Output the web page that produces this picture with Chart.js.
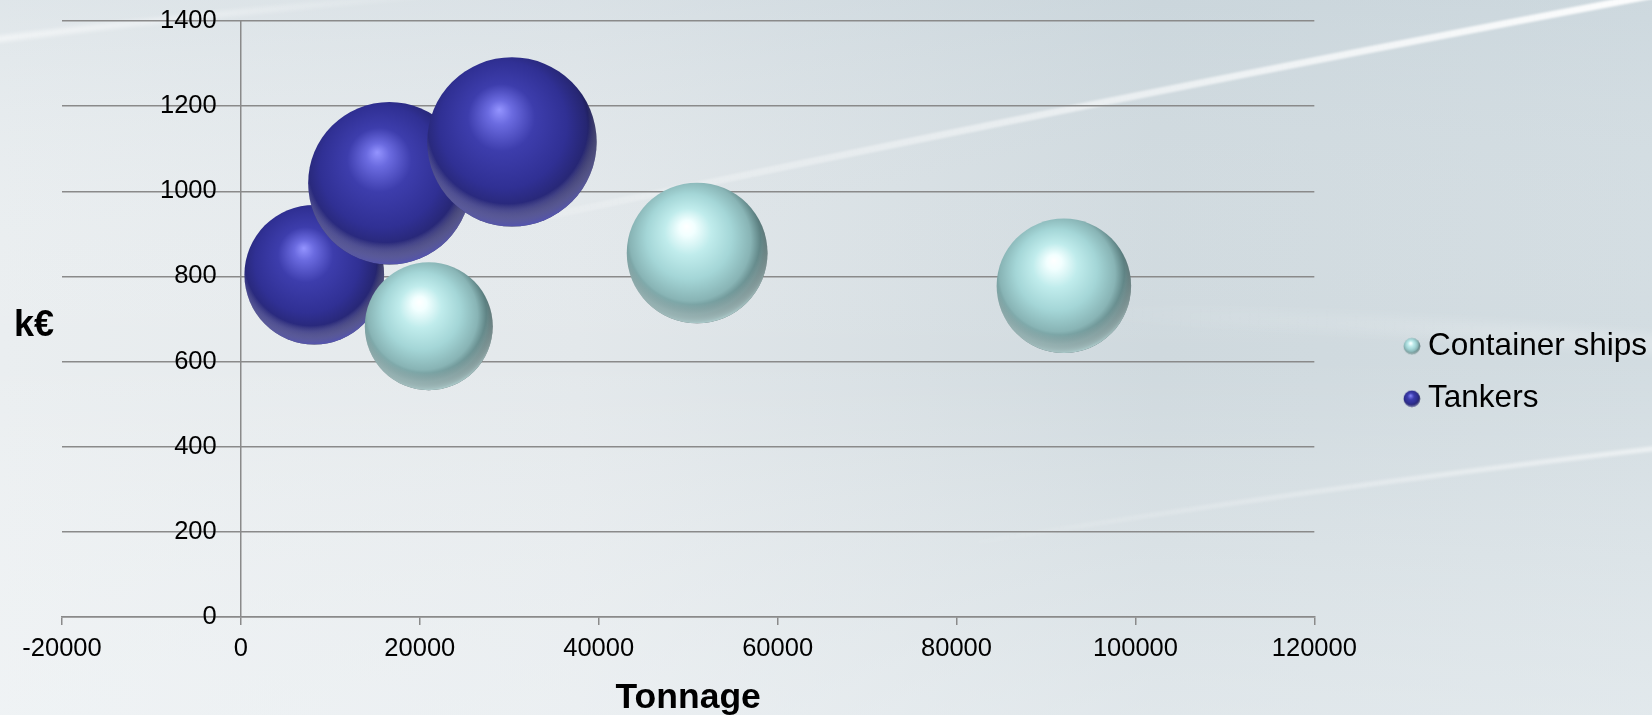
<!DOCTYPE html>
<html>
<head>
<meta charset="utf-8">
<title>Ship costs by tonnage</title>
<script src="https://cdn.jsdelivr.net/npm/chart.js@4.4.1/dist/chart.umd.min.js"></script>
<style>
  html, body { margin: 0; padding: 0; background: #e6eaed; }
  #wrap { width: 1652px; height: 715px; }
</style>
</head>
<body>
<div id="wrap"><canvas id="chart" width="1652" height="715"></canvas></div>
<script>
// Container ships: tonnage, cost (k€) and bubble size
const tonnageContainer = [21000, 51000, 92000];
const costContainer    = [683, 855, 778];
const sizeContainer    = [57, 69, 63];

// Tankers: tonnage, cost (k€) and bubble size
const tonnageTankers = [8200, 16600, 30300];
const costTankers    = [804, 1019, 1116];
const sizeTankers    = [68, 92, 100];

const seriesNames = ['Container ships', 'Tankers'];
const xTickValues = [-20000, 0, 20000, 40000, 60000, 80000, 100000, 120000];
const yTickValues = [0, 200, 400, 600, 800, 1000, 1200, 1400];
const xTitle = 'Tonnage';
const yTitle = 'k€';

// bubble area is proportional to size; the largest bubble gets this radius
const MAX_RADIUS = 84.7;
const sizeMax = Math.max(...sizeContainer, ...sizeTankers);
const toPoints = (xs, ys, ss) => xs.map((x, i) => ({ x, y: ys[i], r: MAX_RADIUS * Math.sqrt(ss[i] / sizeMax) }));

const FONT = '"Liberation Sans", Arial, sans-serif';
const AXIS_GREY = '#8a8a8a';
const NONE = 'rgba(0,0,0,0)';

// shading palettes for the glossy spheres
const palettes = [
  { stops: [[0, '#ffffff'], [0.1, '#f2ffff'], [0.3, '#c0ecec'], [0.55, '#a4d6d7'], [0.78, '#88b4b5'], [0.92, '#587b7c'], [1, '#2a4142']],
    rim: 'rgba(215,248,248,0.75)' },
  { stops: [[0, '#9494ff'], [0.13, '#6b6be0'], [0.36, '#3d3dac'], [0.68, '#303094'], [0.88, '#262672'], [1, '#131338']],
    rim: 'rgba(110,110,225,0.7)' }
];

function paintSphere(ctx, x, y, r, pal) {
  ctx.save();
  ctx.beginPath();
  ctx.arc(x, y, r, 0, Math.PI * 2);
  ctx.closePath();
  const g = ctx.createRadialGradient(x - 0.15 * r, y - 0.38 * r, 0, x - 0.08 * r, y - 0.12 * r, 1.1 * r);
  pal.stops.forEach(s => g.addColorStop(s[0], s[1]));
  ctx.fillStyle = g;
  ctx.fill();
  ctx.clip();
  // lighter rim along the lower edge
  const rim = ctx.createRadialGradient(x - 0.05 * r, y - 0.22 * r, 0.95 * r, x - 0.05 * r, y - 0.22 * r, 1.22 * r);
  rim.addColorStop(0, 'rgba(255,255,255,0)');
  rim.addColorStop(1, pal.rim);
  ctx.fillStyle = rim;
  ctx.fillRect(x - r, y - r, 2 * r, 2 * r);
  ctx.restore();
}

// small sphere images used as legend markers
const markerImages = palettes.map(pal => {
  const c = document.createElement('canvas');
  c.width = 18; c.height = 18;
  paintSphere(c.getContext('2d'), 9, 9, 8.3, pal);
  return c;
});

const backdrop = {
  id: 'backdrop',
  beforeDraw(chart) {
    const { ctx, width, height } = chart;
    ctx.save();
    const h = ctx.createLinearGradient(0, 0, width, 0);
    h.addColorStop(0, '#eaeef0');
    h.addColorStop(0.35, '#e3e8eb');
    h.addColorStop(0.7, '#cfd9de');
    h.addColorStop(1, '#d2dce1');
    ctx.fillStyle = h;
    ctx.fillRect(0, 0, width, height);
    const v = ctx.createLinearGradient(0, 0, 0, height);
    v.addColorStop(0, 'rgba(190,205,214,0.25)');
    v.addColorStop(0.5, 'rgba(255,255,255,0)');
    v.addColorStop(1, 'rgba(245,248,250,0.45)');
    ctx.fillStyle = v;
    ctx.fillRect(0, 0, width, height);
    // soft light streaks
    ctx.lineCap = 'round';
    const streak = (x1, y1, cx, cy, x2, y2, w, a0, a1, blur) => {
      const lg = ctx.createLinearGradient(x1, y1, x2, y2);
      lg.addColorStop(0, 'rgba(255,255,255,' + a0 + ')');
      lg.addColorStop(1, 'rgba(255,255,255,' + a1 + ')');
      ctx.strokeStyle = lg;
      ctx.lineWidth = w;
      ctx.filter = 'blur(' + blur + 'px)';
      ctx.beginPath();
      ctx.moveTo(x1, y1);
      ctx.quadraticCurveTo(cx, cy, x2, y2);
      ctx.stroke();
    };
    streak(520, 222, 1100, 100, 1660, -6, 7, 0.15, 0.95, 1.2);
    streak(-10, 40, 200, 14, 420, -4, 6, 0.6, 0.1, 2);
    streak(980, 542, 1300, 490, 1660, 448, 5, 0.05, 0.55, 1.5);
    streak(1040, 312, 1350, 318, 1660, 345, 18, 0.0, 0.25, 6);
    ctx.filter = 'none';
    ctx.restore();
  }
};

const spheres = {
  id: 'spheres',
  afterDatasetDraw(chart, args) {
    const ctx = chart.ctx;
    args.meta.data.forEach(el => paintSphere(ctx, el.x, el.y, el.options.radius, palettes[args.index]));
  }
};

const yAxisTitle = {
  id: 'yAxisTitle',
  afterDraw(chart) {
    const ctx = chart.ctx;
    ctx.save();
    ctx.font = 'bold 36px ' + FONT;
    ctx.fillStyle = '#000';
    ctx.textAlign = 'center';
    ctx.textBaseline = 'alphabetic';
    ctx.fillText(yTitle, 34, 336);
    ctx.restore();
  }
};

const numberLabel = v => String(v);

new Chart(document.getElementById('chart'), {
  type: 'bubble',
  data: {
    datasets: [
      { label: seriesNames[0], data: toPoints(tonnageContainer, costContainer, sizeContainer),
        backgroundColor: NONE, borderWidth: 0, clip: false },
      { label: seriesNames[1], data: toPoints(tonnageTankers, costTankers, sizeTankers),
        backgroundColor: NONE, borderWidth: 0, clip: false }
    ]
  },
  options: {
    responsive: false,
    devicePixelRatio: 1,
    animation: false,
    events: [],
    layout: { autoPadding: false, padding: { left: 62, top: 21, right: -4, bottom: 0 } },
    scales: {
      x: {
        type: 'linear', position: 'bottom', min: -20000, max: 120000,
        afterBuildTicks: s => { s.ticks = xTickValues.map(v => ({ value: v })); },
        afterFit: s => { s.height = 98; },
        // only the zero line is drawn across the plot: it acts as the vertical axis
        grid: {
          drawOnChartArea: true, drawTicks: true, tickLength: 8, lineWidth: 1.5,
          color: c => (c.tick && c.tick.value === 0 ? AXIS_GREY : NONE),
          tickColor: AXIS_GREY
        },
        border: { color: AXIS_GREY, width: 1.5 },
        ticks: { color: '#000', padding: 9, font: { family: FONT, size: 25.5 }, maxRotation: 0, callback: numberLabel },
        title: { display: true, text: xTitle, color: '#000', font: { family: FONT, size: 35.5, weight: 'bold' }, padding: { top: 4, bottom: -5 } }
      },
      y: {
        type: 'linear', position: 'left', min: 0, max: 1400,
        afterBuildTicks: s => { s.ticks = yTickValues.map(v => ({ value: v })); },
        // the labels are drawn inside the plot, so this axis takes no room
        afterFit: s => { s.width = 0; s.paddingTop = 0; s.paddingBottom = 0; },
        grid: { color: AXIS_GREY, lineWidth: 1.5, drawTicks: false },
        border: { display: false },
        ticks: { color: '#000', mirror: true, crossAlign: 'far', padding: 98, font: { family: FONT, size: 25.5 }, callback: numberLabel }
      },
      // empty axis that keeps the gap between the plot and the legend
      gap: {
        axis: 'y', type: 'linear', position: 'right', display: true,
        grid: { display: false }, border: { display: false }, ticks: { display: false },
        afterFit: s => { s.width = 76; }
      }
    },
    plugins: {
      tooltip: { enabled: false },
      legend: {
        position: 'right', align: 'center',
        title: { display: true, text: ' ', padding: 0, font: { family: FONT, size: 7.5 } },
        labels: {
          usePointStyle: true, boxWidth: 1, padding: 21, color: '#000',
          font: { family: FONT, size: 31.5 },
          generateLabels: chart => chart.data.datasets.map((ds, i) => ({
            text: ds.label, datasetIndex: i, hidden: false,
            pointStyle: markerImages[i], lineWidth: 0,
            fillStyle: NONE, strokeStyle: NONE, fontColor: '#000'
          }))
        }
      }
    }
  },
  plugins: [backdrop, spheres, yAxisTitle]
});
</script>
</body>
</html>
